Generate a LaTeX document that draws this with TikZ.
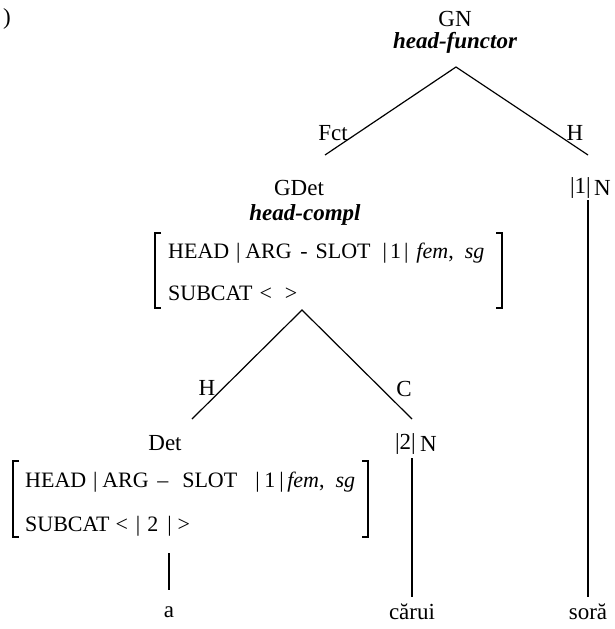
\documentclass[tikz,border=0pt]{standalone}
\usepackage{fontspec}
\setmainfont{Liberation Serif}
\begin{document}
\begin{tikzpicture}[x=1pt,y=-1pt,
  lbl/.style={font=\fontsize{23}{26}\selectfont, inner sep=0pt},
  rule/.style={font=\bfseries\itshape\fontsize{23}{26}\selectfont, inner sep=0pt},
  avm/.style={font=\fontsize{22}{25}\selectfont, inner sep=0pt, anchor=base west},
  edge/.style={line width=1.2pt},
  brk/.style={line width=1.2pt}]
\useasboundingbox (0,0) rectangle (614,629);

% example number (left edge cut)
\node[lbl] (num) at (7,19) {)};

% root GN
\node[lbl] (gn) at (455,19) {GN};
\node[rule] (hf) at (455,43) {head-functor};
\coordinate (top) at (456,67);
\coordinate (fctend) at (325,155);
\coordinate (hend) at (588,155);
\draw[edge] (fctend) -- (top) -- (hend);
\node[lbl, anchor=east] (fct) at (348,133) {Fct};
\node[lbl] (h1) at (575,133) {H};

% GDet with its feature structure
\node[lbl] (gdet) at (299,188) {GDet};
\node[rule] (hc) at (305,215) {head-compl};
\node[avm] (gdetA) at (168,258) {HEAD\hspace{6.8pt}|\hspace{4.8pt}ARG\hspace{8.6pt}-\hspace{8pt}SLOT\hspace{12pt}|\hspace{3pt}1\hspace{3pt}|\hspace{8pt}\textit{fem},\hspace{11pt}\textit{sg}};
\node[avm] (gdetB) at (168,300) {SUBCAT\hspace{7pt}<\hspace{13pt}>};
\draw[brk] (161,233) -- (155,233) -- (155,308) -- (161,308);
\draw[brk] (496,233) -- (502,233) -- (502,308) -- (496,308);

% right daughter of GN
\node[lbl, anchor=east] (n1tag) at (591,188) {|1|};
\node[lbl, anchor=west] (n1) at (594,188) {N};
\coordinate (n1top) at (588,200);

% branching below GDet
\coordinate (mid) at (302,310);
\coordinate (hend2) at (192,419);
\coordinate (cend) at (412,419);
\draw[edge] (hend2) -- (mid) -- (cend);
\node[lbl] (h2) at (207,388) {H};
\node[lbl] (c) at (404,389) {C};

% Det with its feature structure
\node[lbl] (det) at (165,443) {Det};
\node[avm] (detA) at (25,487) {HEAD\hspace{6.8pt}|\hspace{4.8pt}ARG\hspace{8.6pt}–\hspace{14pt}SLOT\hspace{18pt}|\hspace{4.6pt}1\hspace{4pt}|\hspace{3.6pt}\textit{fem},\hspace{11pt}\textit{sg}};
\node[avm] (detB) at (25,531) {SUBCAT\hspace{6pt}<\hspace{8pt}|\hspace{7pt}2\hspace{9pt}|\hspace{6pt}>};
\draw[brk] (19,461) -- (13,461) -- (13,537) -- (19,537);
\draw[brk] (362,461) -- (368,461) -- (368,537) -- (362,537);
\coordinate (dettop) at (169,553);

% N with tag 2
\node[lbl, anchor=east] (n2tag) at (416,444) {|2|};
\node[lbl, anchor=west] (n2) at (420,444) {N};
\coordinate (n2top) at (412,458);

% words
\node[lbl] (wa) at (169,612) {a};
\node[lbl] (wcarui) at (412,612) {cărui};
\node[lbl] (wsora) at (588,612) {soră};

\draw[edge] (dettop) -- (wa.north |- 0,590);
\draw[edge] (n2top) -- (wcarui.north |- 0,597);
\draw[edge] (n1top) -- (wsora.north |- 0,597);
\end{tikzpicture}
\end{document}
